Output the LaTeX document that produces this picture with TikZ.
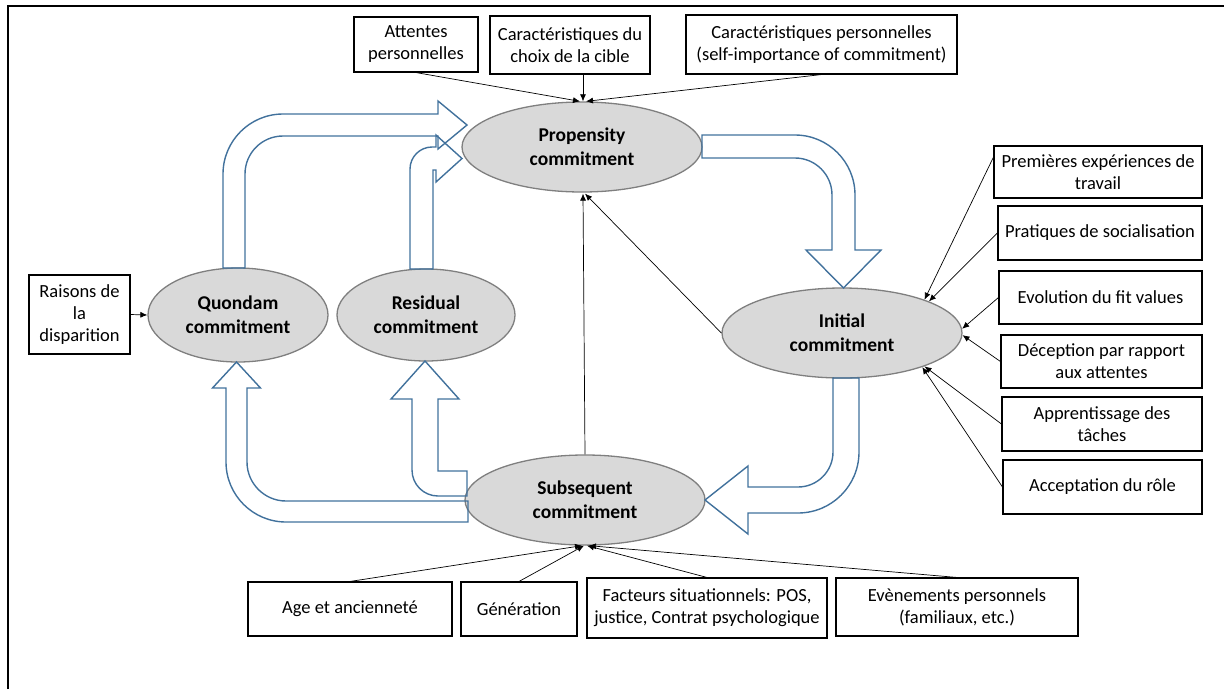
\documentclass[tikz,border=0pt]{standalone}
\usepackage{fontspec}
\setmainfont{Carlito}
\usetikzlibrary{shapes.geometric,arrows.meta,calc}
\definecolor{blk}{HTML}{41719C}
\definecolor{ellfill}{HTML}{D9D9D9}
\definecolor{ellline}{HTML}{7F7F7F}
\begin{document}
\begin{tikzpicture}[x=1pt,y=-1pt,
 box/.style={draw=black,line width=1.1pt,inner sep=0pt,align=center,font=\fontsize{18.5}{22}\selectfont},
 ell/.style={ellipse,draw=ellline,fill=ellfill,line width=1.3pt,inner sep=0pt,align=center,font=\fontsize{19.5}{24}\selectfont\bfseries},
 thinarr/.style={draw=black,line width=0.7pt,-{Latex[length=7pt,width=6pt]}},
 bigarrow/.style={draw=blk,line width=1.4pt,line join=miter,fill=none}]
\useasboundingbox (0,0) rectangle (1224,689);
% frame
\draw[line width=1.6pt] (8,689) -- (8,6) -- (1224,6);

% ellipses
\node[ell,minimum width=240pt,minimum height=90pt] (prop) at (582,147) {Propensity\\commitment};
\node[ell,minimum width=240pt,minimum height=90pt] (init) at (842,333) {Initial\\commitment};
\node[ell,minimum width=180pt,minimum height=94pt] (quon) at (238,315) {Quondam\\commitment};
\node[ell,minimum width=178pt,minimum height=92pt] (resi) at (426,315) {Residual\\commitment};
\node[ell,minimum width=240pt,minimum height=90pt] (subs) at (585,500) {Subsequent\\commitment};

% top boxes
\node[box,minimum width=124pt,minimum height=55pt] (att) at (416,44.5) {Attentes\\personnelles};
\node[box,minimum width=160pt,minimum height=58pt] (carc) at (570,45) {Caractéristiques du\\choix de la cible};
\node[box,minimum width=271pt,minimum height=59pt] (carp) at (821.5,44.5) {Caractéristiques personnelles\\(self-importance of commitment)};

% right boxes
\node[box,minimum width=208pt,minimum height=52pt] (prem) at (1098,172) {Premières expériences de\\travail};
\node[box,minimum width=204pt,minimum height=54pt] (prat) at (1100,233) {Pratiques de socialisation};
\node[box,minimum width=203pt,minimum height=53pt] (evol) at (1100.5,297.5) {Evolution du fit values};
\node[box,minimum width=201pt,minimum height=53pt] (dece) at (1101.5,361.5) {Déception par rapport\\aux attentes};
\node[box,minimum width=200pt,minimum height=54pt] (appr) at (1102,424) {Apprentissage des\\tâches};
\node[box,minimum width=199pt,minimum height=54pt] (acce) at (1102.5,487) {Acceptation du rôle};

% left box
\node[box,minimum width=101pt,minimum height=79pt] (rais) at (79.5,314.5) {Raisons de\\la\\disparition};

% bottom boxes
\node[box,minimum width=204pt,minimum height=54pt] (age) at (350,609) {Age et ancienneté};
\node[box,minimum width=116pt,minimum height=54pt] (gen) at (519,609) {Génération};
\node[box,minimum width=240pt,minimum height=60pt] (fact) at (707,608) {Facteurs situationnels: POS,\\justice, Contrat psychologique};
\node[box,minimum width=242pt,minimum height=58pt] (evt) at (957,607) {Evènements personnels\\(familiaux, etc.)};

% thin arrows into Propensity
\draw[thinarr] (att.south) -- ($(prop.north)+(-2,0)$);
\draw[thinarr] ($(carc.south)+(13,0)$) -- ($(prop.north)+(1,0)$);
\draw[thinarr] (carp.south) -- ($(prop.north)+(4,0)$);
\draw[thinarr] (init.west) -- ($(prop.south)+(3,1)$);
\draw[thinarr] (subs.north) -- ($(prop.south)+(1,1)$);

% thin arrows into Initial
\draw[thinarr] ($(prem.north west)!0.22!(prem.south west)$) -- (init.22);
\draw[thinarr] (prat.west) -- (init.20);
\draw[thinarr] (evol.west) -- (init.2);
\draw[thinarr] (dece.west) -- (init.-1);
\draw[thinarr] (appr.west) -- (init.-22);
\draw[thinarr] (acce.west) -- (init.-23);

% Raisons -> Quondam
\draw[thinarr] (rais.east) -- (quon.west);

% thin arrows into Subsequent
\draw[thinarr] (age.north) -- ($(subs.south)+(-3,0)$);
\draw[thinarr] (gen.north) -- ($(subs.south)+(-1,0)$);
\draw[thinarr] (fact.north) -- ($(subs.south)+(2,0)$);
\draw[thinarr] (evt.north) -- ($(subs.south)+(4,0)$);

% block arrows
% Propensity -> Initial
\draw[bigarrow] (702,135) -- (795,135) .. controls (828.1,135) and (855,161.9) .. (855,195) -- (855,250) -- (881,250) -- (843.5,288) -- (806,250) -- (832,250) -- (832,195) .. controls (832,174.6) and (815.4,158) .. (795,158) -- (702,158) -- cycle;
% Initial -> Subsequent
\draw[bigarrow] (833,378) -- (859,378) -- (859,452) .. controls (859,485.7) and (831.7,513) .. (798,513) -- (748,513) -- (748,534) -- (705,500) -- (748,466) -- (748,487) -- (798,487) .. controls (817.3,487) and (833,471.3) .. (833,452) -- cycle;
% Subsequent -> Quondam
\draw[bigarrow] (468,501) -- (468,522) -- (286,522) .. controls (252.9,522) and (226,495.1) .. (226,462) -- (226,388) -- (212.5,388) -- (236.5,362) -- (260.5,388) -- (247,388) -- (247,462) .. controls (247,483.5) and (264.5,501) .. (286,501) -- cycle;
% Subsequent -> Residual
\draw[bigarrow] (467,471) -- (467,496) -- (438,496) .. controls (423.6,496) and (412,484.4) .. (412,470) -- (412,399) -- (391,399) -- (425,361) -- (459,399) -- (438,399) -- (438,471) -- cycle;
% Quondam -> Propensity
\draw[bigarrow] (223,268) -- (223,174) .. controls (223,140.9) and (249.9,114) .. (283,114) -- (438,114) -- (438,101) -- (467,125) -- (438,149) -- (438,136) -- (283,136) .. controls (262,136) and (245,153) .. (245,174) -- (245,268) -- cycle;
% Residual -> Propensity
\draw[bigarrow] (410,269) -- (410,169) .. controls (410,156.9) and (419.9,147) .. (432,147) -- (436,147) -- (436,135) -- (462,158.5) -- (436,182) -- (436,170) -- (433,170) -- (433,269) -- cycle;
\end{tikzpicture}
\end{document}
